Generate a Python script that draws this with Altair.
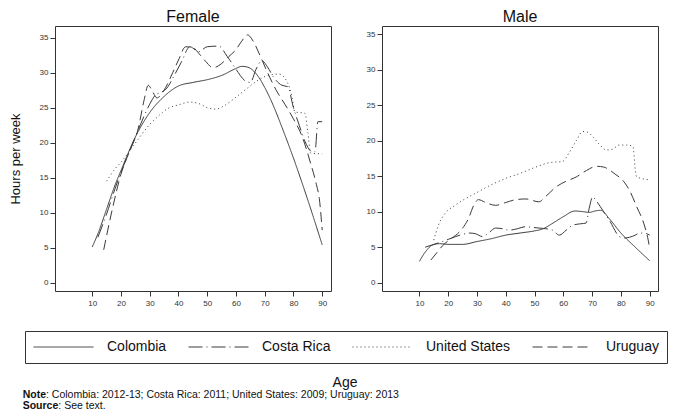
import altair as alt
import pandas as pd

COUNTRIES = ["Colombia", "Costa Rica", "United States", "Uruguay"]
DASHES = [[1, 0], [14, 4, 1, 4], [1, 3], [10, 5]]
X_TICKS = [10, 20, 30, 40, 50, 60, 70, 80, 90]
Y_TICKS = [0, 5, 10, 15, 20, 25, 30, 35]

# ---- Female ----
COL_F_AGE = [10, 12, 15, 18, 20, 25, 30, 35, 40, 45, 50, 55, 60, 62, 64, 66, 68, 70, 73, 76, 80, 85, 90]
COL_F_HRS = [5.1, 7.0, 10.5, 14.0, 16.0, 20.8, 24.3, 26.6, 28.1, 28.6, 29.0, 29.6, 30.6, 30.9, 30.8, 30.3, 29.3, 27.9, 25.3, 22.2, 17.8, 11.8, 5.4]

CRI_F_AGE = [12, 15, 18, 21, 24, 27, 30, 32, 34, 36, 38, 41, 44, 47, 50, 54, 57, 60, 63, 65, 67, 69, 71, 73, 76, 78, 80, 82, 84, 86.5, 87.5, 88.5, 90]
CRI_F_HRS = [6.5, 9.8, 13.5, 16.8, 19.8, 22.8, 25.5, 26.8, 27.2, 27.8, 29.2, 31.5, 33.7, 33.0, 33.7, 33.8, 32.3, 30.5, 28.9, 28.6, 30.5, 31.7, 30.8, 29.4, 28.2, 28.0, 25.0, 22.5, 20.2, 18.7, 18.7, 23.0, 23.0]

USA_F_AGE = [15, 18, 20, 23, 26, 30, 33, 36, 40, 44, 47, 50, 53, 56, 60, 64, 68, 72, 75, 78, 79.5, 80.5, 84, 85, 86, 90]
USA_F_HRS = [14.5, 16.3, 17.2, 18.8, 20.5, 22.6, 23.8, 24.8, 25.4, 25.8, 25.6, 25.0, 24.8, 25.3, 26.5, 27.8, 29.0, 29.7, 29.8, 28.5, 26.5, 24.4, 24.2, 21.5, 18.5, 18.4]

URY_F_AGE = [14, 17, 20, 23, 26, 28, 29.5, 31, 32.5, 35, 38, 40, 42.5, 45, 47, 49.5, 52, 55, 57.5, 60, 62, 64, 66, 68, 71, 74, 77, 80, 83, 86, 88, 89, 90]
URY_F_HRS = [4.7, 10.5, 15.5, 18.8, 22.0, 26.0, 28.2, 27.3, 26.4, 27.5, 30.0, 31.8, 33.7, 33.6, 32.8, 31.6, 30.7, 31.3, 32.3, 33.3, 34.5, 35.4, 34.5, 32.8, 30.0, 27.5, 25.5, 23.4, 20.9, 17.0, 14.0, 12.0, 7.5]

# ---- Male ----
COL_M_AGE = [10, 12, 14.5, 17, 20, 25, 30, 35, 40, 45, 50, 53, 56, 60, 64, 67, 69, 71, 73, 76, 80, 85, 90]
COL_M_HRS = [3.0, 4.3, 5.3, 5.5, 5.4, 5.4, 5.8, 6.2, 6.7, 7.0, 7.3, 7.6, 8.3, 9.3, 10.1, 10.0, 9.9, 10.1, 10.2, 9.0, 7.0, 5.0, 3.1]

CRI_M_AGE = [12, 15, 18, 20, 22.6, 25, 27.2, 29.5, 31.9, 34, 36.5, 39, 41.2, 44, 47, 49, 51.6, 54, 56.3, 58.6, 61, 63.3, 66, 67.9, 69, 70.2, 71.5, 73.7, 76, 79.5, 81, 83, 85, 86.5, 88, 90]
CRI_M_HRS = [5.0, 5.4, 5.8, 6.1, 6.5, 6.8, 7.0, 6.9, 6.5, 7.0, 7.7, 7.6, 7.4, 7.6, 7.9, 7.8, 7.7, 7.6, 7.4, 6.7, 7.4, 8.1, 8.3, 8.4, 10.5, 12.1, 11.5, 10.2, 8.8, 6.5, 6.3, 6.4, 6.7, 7.0, 7.0, 6.7]

USA_M_AGE = [15, 16.5, 19, 22, 25, 29.5, 35, 40, 45, 50.5, 55, 59.8, 62, 64.5, 66.7, 68.5, 70.2, 72.5, 75, 77, 79.5, 82, 84.2, 85, 85.5, 90]
USA_M_HRS = [6.0, 8.0, 9.8, 10.8, 11.6, 12.6, 13.8, 14.7, 15.4, 16.3, 16.9, 17.1, 18.3, 20.0, 21.3, 21.2, 20.6, 19.5, 18.7, 18.8, 19.4, 19.4, 19.2, 16.0, 14.9, 14.5]

URY_M_AGE = [14, 16, 18, 21, 24, 27, 29, 30.5, 33, 36.5, 40, 43.5, 47, 51.5, 54, 57.5, 61, 64.5, 68, 71.5, 74, 76, 78, 80.5, 83, 85.5, 88, 89.5, 90]
URY_M_HRS = [3.2, 4.2, 5.2, 6.2, 7.2, 9.0, 11.0, 11.7, 11.3, 10.9, 11.3, 11.7, 11.8, 11.4, 12.2, 13.5, 14.3, 14.9, 15.8, 16.4, 16.3, 15.9, 15.3, 14.5, 13.0, 10.7, 8.3, 6.0, 4.8]

NOTE_LABEL = "Note"
NOTE_TEXT = ": Colombia: 2012-13; Costa Rica: 2011; United States: 2009; Uruguay: 2013"
SOURCE_LABEL = "Source"
SOURCE_TEXT = ": See text."

series = [
    ("Female", "Colombia", COL_F_AGE, COL_F_HRS),
    ("Female", "Costa Rica", CRI_F_AGE, CRI_F_HRS),
    ("Female", "United States", USA_F_AGE, USA_F_HRS),
    ("Female", "Uruguay", URY_F_AGE, URY_F_HRS),
    ("Male", "Colombia", COL_M_AGE, COL_M_HRS),
    ("Male", "Costa Rica", CRI_M_AGE, CRI_M_HRS),
    ("Male", "United States", USA_M_AGE, USA_M_HRS),
    ("Male", "Uruguay", URY_M_AGE, URY_M_HRS),
]
rows = []
for sex, country, ages, hrs in series:
    for a, h in zip(ages, hrs):
        rows.append({"sex": sex, "country": country, "age": a, "hours": h})
df = pd.DataFrame(rows)

FONT = "Liberation Sans"
LINE = "#3a3a3a"
dash_scale = alt.Scale(domain=COUNTRIES, range=DASHES)


def panel(sex, xdom, ydom, ytitle):
    yaxis_kw = dict(values=Y_TICKS, labelFontSize=8, labelFont=FONT, labelColor="#333333",
                    tickSize=5, tickColor="#333333", domain=False, grid=False, labelPadding=2)
    if ytitle:
        yaxis_kw.update(title=ytitle, titleFont=FONT, titleFontSize=13, titleFontWeight="normal",
                        titleColor="#111111", titlePadding=17)
    else:
        yaxis_kw.update(title=None)
    return (
        alt.Chart(df[df["sex"] == sex])
        .mark_line(color=LINE, strokeWidth=1, interpolate="monotone")
        .encode(
            x=alt.X("age:Q", scale=alt.Scale(domain=xdom, nice=False, zero=False),
                    axis=alt.Axis(values=X_TICKS, title=None, labelFontSize=8, labelFont=FONT,
                                  labelColor="#333333", tickSize=5, tickColor="#333333",
                                  domain=False, grid=False, labelPadding=3)),
            y=alt.Y("hours:Q", scale=alt.Scale(domain=ydom, nice=False, zero=False),
                    axis=alt.Axis(**yaxis_kw)),
            strokeDash=alt.StrokeDash("country:N", scale=dash_scale, legend=None),
            order=alt.Order("age:Q"),
        )
        .properties(
            width=276, height=265,
            title=alt.TitleParams(sex, fontSize=16, font=FONT, fontWeight="normal",
                                  color="#111111", offset=1),
            view=alt.ViewBackground(stroke="#333333", strokeWidth=1),
        )
    )


female = panel("Female", [-2.94, 93.06], [-1.19, 36.67], "Hours per week")
male = panel("Male", [-3.0, 92.9], [-1.17, 36.17], None)

one = pd.DataFrame({"k": [0]})


def txt(s, x, y, size, weight="normal", align="left"):
    return (
        alt.Chart(one)
        .mark_text(text=s, fontSize=size, font=FONT, fontWeight=weight, align=align,
                   baseline="alphabetic", color="#111111")
        .encode(x=alt.value(x), y=alt.value(y))
    )


legend = alt.Legend(
    title=None, orient="none", legendX=-30, legendY=7,
    direction="horizontal", columns=4, clipHeight=16,
    symbolType="stroke", symbolSize=3600, symbolStrokeWidth=1, symbolOpacity=1,
    symbolStrokeColor=LINE, labelFontSize=14, labelFont=FONT, labelBaseline="middle",
    labelColor="#111111", labelOffset=13, columnPadding=21,
    padding=8, strokeColor="#333333", labelLimit=300,
)

legend_src = (
    alt.Chart(pd.DataFrame({"country": COUNTRIES}))
    .mark_rule(opacity=0)
    .encode(x=alt.value(0), x2=alt.value(1), y=alt.value(0),
            strokeDash=alt.StrokeDash("country:N", scale=dash_scale, legend=legend))
)

X0 = -32.3
bottom = alt.layer(
    legend_src,
    txt("Age", 290, 62.5, 14, align="center"),
    txt(NOTE_LABEL, X0, 74, 10.5, weight="bold"),
    txt(NOTE_TEXT, X0 + 23.3, 74, 10.5),
    txt(SOURCE_LABEL, X0, 85, 10.5, weight="bold"),
    txt(SOURCE_TEXT, X0 + 35.6, 85, 10.5),
).properties(width=600, height=80, view=alt.ViewBackground(stroke="transparent"))

chart = (
    alt.vconcat(alt.hconcat(female, male, spacing=33), bottom, spacing=15)
    .resolve_scale(strokeDash="independent")
    .resolve_legend(strokeDash="independent")
    .properties(padding={"left": 0, "top": 0, "right": 0, "bottom": 0}, background="white")
)

chart.save("out.html", embed_options={"renderer": "svg", "actions": False})
